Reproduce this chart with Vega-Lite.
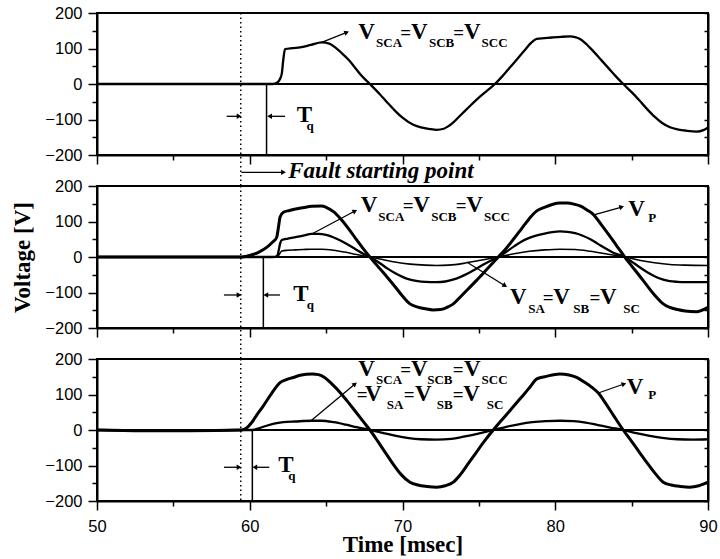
{
"$schema":"https://vega.github.io/schema/vega-lite/v6.json",
"background":"white",
"padding":{"left":10,"top":4,"right":0,"bottom":0},
"spacing":31,
"bounds":"flush",
"datasets":{
"curves":[
{"p":1,"s":"SC","t":50,"v":0},{"p":1,"s":"SC","t":55,"v":0},{"p":1,"s":"SC","t":61.2,"v":0},{"p":1,"s":"SC","t":61.5,"v":0},{"p":1,"s":"SC","t":61.8,"v":4},{"p":1,"s":"SC","t":61.98,"v":14},{"p":1,"s":"SC","t":62.1,"v":30},{"p":1,"s":"SC","t":62.2,"v":70},{"p":1,"s":"SC","t":62.31,"v":98},{"p":1,"s":"SC","t":62.8,"v":101},{"p":1,"s":"SC","t":63.29,"v":103},{"p":1,"s":"SC","t":64.0,"v":110},{"p":1,"s":"SC","t":64.71,"v":117},{"p":1,"s":"SC","t":65.2,"v":114},{"p":1,"s":"SC","t":65.5,"v":106},{"p":1,"s":"SC","t":66.0,"v":88},{"p":1,"s":"SC","t":66.5,"v":67},{"p":1,"s":"SC","t":67.0,"v":40},{"p":1,"s":"SC","t":67.22,"v":28},{"p":1,"s":"SC","t":67.87,"v":0},{"p":1,"s":"SC","t":68.5,"v":-28},{"p":1,"s":"SC","t":69.0,"v":-52},{"p":1,"s":"SC","t":69.5,"v":-75},{"p":1,"s":"SC","t":70.0,"v":-95},{"p":1,"s":"SC","t":70.71,"v":-115},{"p":1,"s":"SC","t":71.3,"v":-123},{"p":1,"s":"SC","t":71.8,"v":-127},{"p":1,"s":"SC","t":72.24,"v":-129},{"p":1,"s":"SC","t":72.7,"v":-126},{"p":1,"s":"SC","t":73.0,"v":-119},{"p":1,"s":"SC","t":73.33,"v":-108},{"p":1,"s":"SC","t":73.8,"v":-88},{"p":1,"s":"SC","t":74.3,"v":-67},{"p":1,"s":"SC","t":74.8,"v":-46},{"p":1,"s":"SC","t":75.3,"v":-27},{"p":1,"s":"SC","t":75.7,"v":-13},{"p":1,"s":"SC","t":76.05,"v":0},{"p":1,"s":"SC","t":76.5,"v":20},{"p":1,"s":"SC","t":77.0,"v":45},{"p":1,"s":"SC","t":77.5,"v":70},{"p":1,"s":"SC","t":78.0,"v":95},{"p":1,"s":"SC","t":78.4,"v":115},{"p":1,"s":"SC","t":78.79,"v":127},{"p":1,"s":"SC","t":79.3,"v":129},{"p":1,"s":"SC","t":79.8,"v":131},{"p":1,"s":"SC","t":80.4,"v":133},{"p":1,"s":"SC","t":80.97,"v":134},{"p":1,"s":"SC","t":81.3,"v":132},{"p":1,"s":"SC","t":81.62,"v":127},{"p":1,"s":"SC","t":82.0,"v":114},{"p":1,"s":"SC","t":82.5,"v":92},{"p":1,"s":"SC","t":83.0,"v":68},{"p":1,"s":"SC","t":83.5,"v":44},{"p":1,"s":"SC","t":84.0,"v":20},{"p":1,"s":"SC","t":84.45,"v":0},{"p":1,"s":"SC","t":85.0,"v":-23},{"p":1,"s":"SC","t":85.5,"v":-46},{"p":1,"s":"SC","t":86.0,"v":-70},{"p":1,"s":"SC","t":86.5,"v":-92},{"p":1,"s":"SC","t":87.0,"v":-110},{"p":1,"s":"SC","t":87.51,"v":-122},{"p":1,"s":"SC","t":88.0,"v":-128},{"p":1,"s":"SC","t":88.5,"v":-131},{"p":1,"s":"SC","t":89.26,"v":-134},{"p":1,"s":"SC","t":89.7,"v":-130},{"p":1,"s":"SC","t":90.0,"v":-122},

{"p":2,"s":"P","t":50,"v":0},{"p":2,"s":"P","t":55,"v":0},{"p":2,"s":"P","t":59.47,"v":0},{"p":2,"s":"P","t":59.8,"v":2},{"p":2,"s":"P","t":60.2,"v":7},{"p":2,"s":"P","t":60.6,"v":14},{"p":2,"s":"P","t":61.11,"v":27},{"p":2,"s":"P","t":61.5,"v":42},{"p":2,"s":"P","t":61.76,"v":55},{"p":2,"s":"P","t":61.9,"v":90},{"p":2,"s":"P","t":61.98,"v":112},{"p":2,"s":"P","t":62.2,"v":126},{"p":2,"s":"P","t":62.6,"v":131},{"p":2,"s":"P","t":63.0,"v":135},{"p":2,"s":"P","t":63.5,"v":139},{"p":2,"s":"P","t":64.06,"v":143},{"p":2,"s":"P","t":64.71,"v":144},{"p":2,"s":"P","t":65.0,"v":140},{"p":2,"s":"P","t":65.5,"v":127},{"p":2,"s":"P","t":66.0,"v":105},{"p":2,"s":"P","t":66.5,"v":78},{"p":2,"s":"P","t":67.0,"v":48},{"p":2,"s":"P","t":67.4,"v":25},{"p":2,"s":"P","t":67.87,"v":0},{"p":2,"s":"P","t":68.5,"v":-32},{"p":2,"s":"P","t":69.0,"v":-57},{"p":2,"s":"P","t":69.5,"v":-83},{"p":2,"s":"P","t":70.0,"v":-110},{"p":2,"s":"P","t":70.49,"v":-132},{"p":2,"s":"P","t":71.0,"v":-141},{"p":2,"s":"P","t":71.5,"v":-146},{"p":2,"s":"P","t":72.0,"v":-149},{"p":2,"s":"P","t":72.5,"v":-148},{"p":2,"s":"P","t":73.0,"v":-140},{"p":2,"s":"P","t":73.33,"v":-132},{"p":2,"s":"P","t":73.8,"v":-112},{"p":2,"s":"P","t":74.3,"v":-90},{"p":2,"s":"P","t":74.8,"v":-68},{"p":2,"s":"P","t":75.3,"v":-45},{"p":2,"s":"P","t":75.8,"v":-22},{"p":2,"s":"P","t":76.27,"v":0},{"p":2,"s":"P","t":76.8,"v":25},{"p":2,"s":"P","t":77.3,"v":52},{"p":2,"s":"P","t":77.8,"v":80},{"p":2,"s":"P","t":78.3,"v":108},{"p":2,"s":"P","t":78.79,"v":130},{"p":2,"s":"P","t":79.3,"v":140},{"p":2,"s":"P","t":79.8,"v":148},{"p":2,"s":"P","t":80.3,"v":152},{"p":2,"s":"P","t":80.8,"v":152},{"p":2,"s":"P","t":81.3,"v":148},{"p":2,"s":"P","t":81.62,"v":144},{"p":2,"s":"P","t":82.1,"v":132},{"p":2,"s":"P","t":82.47,"v":121},{"p":2,"s":"P","t":83.0,"v":92},{"p":2,"s":"P","t":83.5,"v":63},{"p":2,"s":"P","t":84.0,"v":33},{"p":2,"s":"P","t":84.55,"v":0},{"p":2,"s":"P","t":85.0,"v":-25},{"p":2,"s":"P","t":85.5,"v":-52},{"p":2,"s":"P","t":86.0,"v":-80},{"p":2,"s":"P","t":86.5,"v":-107},{"p":2,"s":"P","t":87.07,"v":-132},{"p":2,"s":"P","t":87.5,"v":-142},{"p":2,"s":"P","t":88.0,"v":-148},{"p":2,"s":"P","t":88.5,"v":-152},{"p":2,"s":"P","t":89.25,"v":-154},{"p":2,"s":"P","t":89.6,"v":-150},{"p":2,"s":"P","t":90.0,"v":-142},

{"p":2,"s":"SC","t":50,"v":0},{"p":2,"s":"SC","t":61.5,"v":0},{"p":2,"s":"SC","t":61.8,"v":3},{"p":2,"s":"SC","t":61.9,"v":20},{"p":2,"s":"SC","t":62.0,"v":40},{"p":2,"s":"SC","t":62.1,"v":48},{"p":2,"s":"SC","t":62.5,"v":52},{"p":2,"s":"SC","t":63.0,"v":56},{"p":2,"s":"SC","t":63.5,"v":60},{"p":2,"s":"SC","t":64.06,"v":65},{"p":2,"s":"SC","t":64.5,"v":65},{"p":2,"s":"SC","t":65.0,"v":62},{"p":2,"s":"SC","t":65.5,"v":55},{"p":2,"s":"SC","t":66.0,"v":45},{"p":2,"s":"SC","t":66.5,"v":33},{"p":2,"s":"SC","t":67.0,"v":20},{"p":2,"s":"SC","t":67.4,"v":10},{"p":2,"s":"SC","t":67.87,"v":0},{"p":2,"s":"SC","t":68.5,"v":-17},{"p":2,"s":"SC","t":69.0,"v":-32},{"p":2,"s":"SC","t":69.5,"v":-45},{"p":2,"s":"SC","t":70.0,"v":-56},{"p":2,"s":"SC","t":70.5,"v":-64},{"p":2,"s":"SC","t":71.0,"v":-68},{"p":2,"s":"SC","t":71.5,"v":-70},{"p":2,"s":"SC","t":72.24,"v":-71},{"p":2,"s":"SC","t":72.8,"v":-69},{"p":2,"s":"SC","t":73.3,"v":-64},{"p":2,"s":"SC","t":73.8,"v":-56},{"p":2,"s":"SC","t":74.3,"v":-46},{"p":2,"s":"SC","t":74.8,"v":-34},{"p":2,"s":"SC","t":75.3,"v":-21},{"p":2,"s":"SC","t":75.8,"v":-10},{"p":2,"s":"SC","t":76.27,"v":0},{"p":2,"s":"SC","t":76.8,"v":15},{"p":2,"s":"SC","t":77.3,"v":30},{"p":2,"s":"SC","t":77.8,"v":44},{"p":2,"s":"SC","t":78.3,"v":54},{"p":2,"s":"SC","t":78.8,"v":61},{"p":2,"s":"SC","t":79.3,"v":66},{"p":2,"s":"SC","t":79.8,"v":70},{"p":2,"s":"SC","t":80.31,"v":72},{"p":2,"s":"SC","t":80.8,"v":71},{"p":2,"s":"SC","t":81.3,"v":67},{"p":2,"s":"SC","t":81.8,"v":60},{"p":2,"s":"SC","t":82.3,"v":50},{"p":2,"s":"SC","t":82.8,"v":37},{"p":2,"s":"SC","t":83.3,"v":24},{"p":2,"s":"SC","t":83.8,"v":12},{"p":2,"s":"SC","t":84.55,"v":0},{"p":2,"s":"SC","t":85.0,"v":-13},{"p":2,"s":"SC","t":85.5,"v":-28},{"p":2,"s":"SC","t":86.0,"v":-42},{"p":2,"s":"SC","t":86.5,"v":-54},{"p":2,"s":"SC","t":87.07,"v":-64},{"p":2,"s":"SC","t":87.5,"v":-68},{"p":2,"s":"SC","t":88.0,"v":-70},{"p":2,"s":"SC","t":88.5,"v":-71},{"p":2,"s":"SC","t":89.0,"v":-71},{"p":2,"s":"SC","t":90.0,"v":-71},

{"p":2,"s":"S","t":50,"v":0},{"p":2,"s":"S","t":61.5,"v":0},{"p":2,"s":"S","t":61.85,"v":3},{"p":2,"s":"S","t":62.0,"v":12},{"p":2,"s":"S","t":62.1,"v":17},{"p":2,"s":"S","t":62.5,"v":19},{"p":2,"s":"S","t":63.0,"v":20},{"p":2,"s":"S","t":63.5,"v":21},{"p":2,"s":"S","t":64.06,"v":22},{"p":2,"s":"S","t":64.7,"v":22},{"p":2,"s":"S","t":65.5,"v":19},{"p":2,"s":"S","t":66.2,"v":14},{"p":2,"s":"S","t":67.0,"v":7},{"p":2,"s":"S","t":67.87,"v":0},{"p":2,"s":"S","t":68.7,"v":-7},{"p":2,"s":"S","t":69.5,"v":-14},{"p":2,"s":"S","t":70.5,"v":-20},{"p":2,"s":"S","t":71.5,"v":-23},{"p":2,"s":"S","t":72.24,"v":-24},{"p":2,"s":"S","t":73.0,"v":-23},{"p":2,"s":"S","t":74.0,"v":-18},{"p":2,"s":"S","t":75.0,"v":-10},{"p":2,"s":"S","t":76.27,"v":0},{"p":2,"s":"S","t":77.3,"v":9},{"p":2,"s":"S","t":78.3,"v":16},{"p":2,"s":"S","t":79.3,"v":20},{"p":2,"s":"S","t":80.3,"v":22},{"p":2,"s":"S","t":81.3,"v":21},{"p":2,"s":"S","t":82.3,"v":16},{"p":2,"s":"S","t":83.3,"v":9},{"p":2,"s":"S","t":84.55,"v":0},{"p":2,"s":"S","t":85.5,"v":-9},{"p":2,"s":"S","t":86.5,"v":-16},{"p":2,"s":"S","t":87.5,"v":-21},{"p":2,"s":"S","t":88.5,"v":-23},{"p":2,"s":"S","t":90.0,"v":-24},

{"p":3,"s":"P","t":50,"v":0},{"p":3,"s":"P","t":53,"v":-2},{"p":3,"s":"P","t":56,"v":-2},{"p":3,"s":"P","t":59.47,"v":0},{"p":3,"s":"P","t":59.8,"v":6},{"p":3,"s":"P","t":60.13,"v":21},{"p":3,"s":"P","t":60.5,"v":45},{"p":3,"s":"P","t":60.89,"v":68},{"p":3,"s":"P","t":61.4,"v":101},{"p":3,"s":"P","t":62.0,"v":134},{"p":3,"s":"P","t":62.4,"v":142},{"p":3,"s":"P","t":62.85,"v":148},{"p":3,"s":"P","t":63.3,"v":154},{"p":3,"s":"P","t":63.7,"v":157},{"p":3,"s":"P","t":64.1,"v":158},{"p":3,"s":"P","t":64.5,"v":156},{"p":3,"s":"P","t":64.9,"v":148},{"p":3,"s":"P","t":65.37,"v":130},{"p":3,"s":"P","t":65.87,"v":108},{"p":3,"s":"P","t":66.37,"v":82},{"p":3,"s":"P","t":66.87,"v":55},{"p":3,"s":"P","t":67.37,"v":27},{"p":3,"s":"P","t":67.87,"v":0},{"p":3,"s":"P","t":68.4,"v":-33},{"p":3,"s":"P","t":68.9,"v":-65},{"p":3,"s":"P","t":69.4,"v":-97},{"p":3,"s":"P","t":69.9,"v":-125},{"p":3,"s":"P","t":70.49,"v":-147},{"p":3,"s":"P","t":71.0,"v":-155},{"p":3,"s":"P","t":71.6,"v":-159},{"p":3,"s":"P","t":72.24,"v":-161},{"p":3,"s":"P","t":72.8,"v":-157},{"p":3,"s":"P","t":73.33,"v":-147},{"p":3,"s":"P","t":73.8,"v":-125},{"p":3,"s":"P","t":74.3,"v":-95},{"p":3,"s":"P","t":74.8,"v":-65},{"p":3,"s":"P","t":75.3,"v":-35},{"p":3,"s":"P","t":75.94,"v":0},{"p":3,"s":"P","t":76.5,"v":28},{"p":3,"s":"P","t":77.0,"v":53},{"p":3,"s":"P","t":77.5,"v":78},{"p":3,"s":"P","t":78.0,"v":103},{"p":3,"s":"P","t":78.4,"v":124},{"p":3,"s":"P","t":78.79,"v":144},{"p":3,"s":"P","t":79.3,"v":150},{"p":3,"s":"P","t":79.8,"v":155},{"p":3,"s":"P","t":80.31,"v":158},{"p":3,"s":"P","t":80.9,"v":155},{"p":3,"s":"P","t":81.4,"v":148},{"p":3,"s":"P","t":81.9,"v":135},{"p":3,"s":"P","t":82.4,"v":120},{"p":3,"s":"P","t":82.82,"v":104},{"p":3,"s":"P","t":83.3,"v":75},{"p":3,"s":"P","t":83.8,"v":42},{"p":3,"s":"P","t":84.45,"v":0},{"p":3,"s":"P","t":85.0,"v":-32},{"p":3,"s":"P","t":85.5,"v":-62},{"p":3,"s":"P","t":86.0,"v":-92},{"p":3,"s":"P","t":86.5,"v":-120},{"p":3,"s":"P","t":87.07,"v":-147},{"p":3,"s":"P","t":87.6,"v":-155},{"p":3,"s":"P","t":88.2,"v":-159},{"p":3,"s":"P","t":88.81,"v":-161},{"p":3,"s":"P","t":89.4,"v":-157},{"p":3,"s":"P","t":90.0,"v":-147},

{"p":3,"s":"SC","t":50,"v":0},{"p":3,"s":"SC","t":53,"v":-2},{"p":3,"s":"SC","t":56,"v":-2},{"p":3,"s":"SC","t":59.5,"v":0},{"p":3,"s":"SC","t":60.2,"v":0},{"p":3,"s":"SC","t":60.6,"v":5},{"p":3,"s":"SC","t":61.1,"v":12},{"p":3,"s":"SC","t":61.6,"v":18},{"p":3,"s":"SC","t":62.2,"v":22},{"p":3,"s":"SC","t":63.0,"v":24},{"p":3,"s":"SC","t":64.06,"v":26},{"p":3,"s":"SC","t":64.7,"v":26},{"p":3,"s":"SC","t":65.5,"v":22},{"p":3,"s":"SC","t":66.3,"v":15},{"p":3,"s":"SC","t":67.0,"v":8},{"p":3,"s":"SC","t":67.87,"v":0},{"p":3,"s":"SC","t":68.7,"v":-8},{"p":3,"s":"SC","t":69.5,"v":-16},{"p":3,"s":"SC","t":70.3,"v":-22},{"p":3,"s":"SC","t":71.2,"v":-26},{"p":3,"s":"SC","t":72.24,"v":-27},{"p":3,"s":"SC","t":73.2,"v":-25},{"p":3,"s":"SC","t":74.0,"v":-19},{"p":3,"s":"SC","t":74.9,"v":-11},{"p":3,"s":"SC","t":75.94,"v":0},{"p":3,"s":"SC","t":76.8,"v":9},{"p":3,"s":"SC","t":77.6,"v":16},{"p":3,"s":"SC","t":78.5,"v":22},{"p":3,"s":"SC","t":79.4,"v":25},{"p":3,"s":"SC","t":80.31,"v":26},{"p":3,"s":"SC","t":81.2,"v":25},{"p":3,"s":"SC","t":82.0,"v":21},{"p":3,"s":"SC","t":82.8,"v":14},{"p":3,"s":"SC","t":83.6,"v":7},{"p":3,"s":"SC","t":84.45,"v":0},{"p":3,"s":"SC","t":85.3,"v":-9},{"p":3,"s":"SC","t":86.1,"v":-16},{"p":3,"s":"SC","t":87.0,"v":-22},{"p":3,"s":"SC","t":88.0,"v":-26},{"p":3,"s":"SC","t":89.0,"v":-27},{"p":3,"s":"SC","t":90.0,"v":-26}
],
"vl":[
{"p":1,"k":"f","x":59.41,"y":200,"y2":-287.3},{"p":1,"k":"q","x":61.1,"y":0,"y2":-200},
{"p":2,"k":"f","x":59.41,"y":200,"y2":-287.3},{"p":2,"k":"q","x":60.89,"y":0,"y2":-200},
{"p":3,"k":"f","x":59.41,"y":200,"y2":-200},{"p":3,"k":"q","x":60.17,"y":0,"y2":-200}
],
"arrows":[
{"p":1,"x":64.71,"y":117.5,"x2":66.35,"y2":145.6,"a":338},
{"p":1,"x":58.49,"y":-91,"x2":59.3,"y2":-91,"a":0},
{"p":1,"x":62.31,"y":-91,"x2":61.3,"y2":-91,"a":180},
{"p":1,"x":59.45,"y":-248.7,"x2":62.21,"y2":-248.7,"a":0},
{"p":2,"x":64.06,"y":64.8,"x2":66.89,"y2":129.6,"a":332},
{"p":2,"x":82.47,"y":118.3,"x2":84.35,"y2":140.8,"a":344},
{"p":2,"x":74.2,"y":-14.1,"x2":76.71,"y2":-80.8,"a":32},
{"p":2,"x":58.31,"y":-107,"x2":59.3,"y2":-107,"a":0},
{"p":2,"x":61.98,"y":-107,"x2":61.05,"y2":-107,"a":180},
{"p":3,"x":64.01,"y":26.2,"x2":66.89,"y2":129.6,"a":320},
{"p":3,"x":82.82,"y":104.2,"x2":84.5,"y2":129.6,"a":341},
{"p":3,"x":58.31,"y":-105,"x2":59.3,"y2":-105,"a":0},
{"p":3,"x":61.28,"y":-105,"x2":60.33,"y2":-105,"a":180}
],
"labels":[
{"p":1,"x":67.11,"y":126.8,"t":"V","k":"m"},{"p":1,"x":68.27,"y":103.4,"t":"SCA","k":"s"},{"p":1,"x":69.86,"y":126.8,"t":"=","k":"e"},{"p":1,"x":70.56,"y":126.8,"t":"V","k":"m"},{"p":1,"x":71.73,"y":103.4,"t":"SCB","k":"s"},{"p":1,"x":73.33,"y":126.8,"t":"=","k":"e"},{"p":1,"x":74.03,"y":126.8,"t":"V","k":"m"},{"p":1,"x":75.18,"y":103.4,"t":"SCC","k":"s"},
{"p":1,"x":63.07,"y":-107.9,"t":"T","k":"m"},{"p":1,"x":63.72,"y":-129.6,"t":"q","k":"s"},

{"p":2,"x":67.26,"y":125.9,"t":"V","k":"m"},{"p":2,"x":68.42,"y":102.5,"t":"SCA","k":"s"},{"p":2,"x":70.01,"y":125.9,"t":"=","k":"e"},{"p":2,"x":70.71,"y":125.9,"t":"V","k":"m"},{"p":2,"x":71.88,"y":102.5,"t":"SCB","k":"s"},{"p":2,"x":73.48,"y":125.9,"t":"=","k":"e"},{"p":2,"x":74.18,"y":125.9,"t":"V","k":"m"},{"p":2,"x":75.33,"y":102.5,"t":"SCC","k":"s"},
{"p":2,"x":84.78,"y":115.5,"t":"V","k":"m"},{"p":2,"x":86.09,"y":98.6,"t":"P","k":"s"},
{"p":2,"x":77.04,"y":-132.4,"t":"V","k":"m"},{"p":2,"x":78.24,"y":-157.7,"t":"SA","k":"s"},{"p":2,"x":79.18,"y":-132.4,"t":"=","k":"e"},{"p":2,"x":79.87,"y":-132.4,"t":"V","k":"m"},{"p":2,"x":81.18,"y":-157.7,"t":"SB","k":"s"},{"p":2,"x":82.24,"y":-132.4,"t":"=","k":"e"},{"p":2,"x":82.93,"y":-132.4,"t":"V","k":"m"},{"p":2,"x":84.45,"y":-157.7,"t":"SC","k":"s"},
{"p":2,"x":62.85,"y":-123,"t":"T","k":"m"},{"p":2,"x":63.73,"y":-145.6,"t":"q","k":"s"},

{"p":3,"x":67.11,"y":153,"t":"V","k":"m"},{"p":3,"x":68.27,"y":129.6,"t":"SCA","k":"s"},{"p":3,"x":69.86,"y":153,"t":"=","k":"e"},{"p":3,"x":70.56,"y":153,"t":"V","k":"m"},{"p":3,"x":71.62,"y":129.6,"t":"SCB","k":"s"},{"p":3,"x":73.29,"y":153,"t":"=","k":"e"},{"p":3,"x":74.03,"y":153,"t":"V","k":"m"},{"p":3,"x":75.18,"y":129.6,"t":"SCC","k":"s"},
{"p":3,"x":67.0,"y":82.5,"t":"=","k":"e"},{"p":3,"x":67.55,"y":82.5,"t":"V","k":"m"},{"p":3,"x":68.97,"y":59.1,"t":"SA","k":"s"},{"p":3,"x":70.08,"y":82.5,"t":"=","k":"e"},{"p":3,"x":70.82,"y":82.5,"t":"V","k":"m"},{"p":3,"x":72.24,"y":59.1,"t":"SB","k":"s"},{"p":3,"x":73.29,"y":82.5,"t":"=","k":"e"},{"p":3,"x":73.98,"y":82.5,"t":"V","k":"m"},{"p":3,"x":75.51,"y":59.1,"t":"SC","k":"s"},
{"p":3,"x":84.68,"y":101.4,"t":"V","k":"m"},{"p":3,"x":86.09,"y":87.3,"t":"P","k":"s"},
{"p":3,"x":61.87,"y":-119,"t":"T","k":"m"},{"p":3,"x":62.52,"y":-141.7,"t":"q","k":"s"}
],
"fault":[{"p":1,"x":62.52,"y":-265.6,"t":"Fault starting point"}]
},
"vconcat":[
{"width":611,"height":142,
"resolve":{"axis":{"x":"independent","y":"independent"}},
"layer":[
{"data":{"values":[{}]},"mark":{"type":"rule","color":"black","strokeWidth":2},
"encoding":{"y":{"datum":0,"type":"quantitative","scale":{"domain":[-200,200],"nice":false},"axis":{"orient":"right","values":[-200,-150,-100,-50,0,50,100,150,200],"labels":false,"tickSize":-4,"title":null}}}},
{"data":{"name":"curves"},"transform":[{"filter":"datum.p==1"}],
"mark":{"type":"line","color":"black","interpolate":"monotone"},
"encoding":{
"x":{"field":"t","type":"quantitative","scale":{"domain":[50,90],"nice":false},"axis":{"orient":"bottom","values":[50,55,60,65,70,75,80,85,90],"labels":false,"title":null,"tickSize":{"condition":{"test":"datum.value % 10 === 0","value":9},"value":5}}},
"y":{"field":"v","type":"quantitative","scale":{"domain":[-200,200],"nice":false},"axis":{"orient":"left","values":[-200,-150,-100,-50,0,50,100,150,200],"labelExpr":"datum.value % 100 === 0 ? datum.label : ''","title":null,"labelPadding":6,"tickSize":{"condition":{"test":"datum.value % 100 === 0","value":9},"value":5}}},
"detail":{"field":"s"},
"strokeWidth":{"field":"s","type":"nominal","scale":{"domain":["P","SC","S"],"range":[3,1.6,1.5]},"legend":null}}},
{"data":{"name":"vl"},"transform":[{"filter":"datum.p==1"}],
"mark":{"type":"rule","color":"black","strokeWidth":1.5},
"encoding":{"x":{"field":"x","type":"quantitative","axis":null},"y":{"field":"y","type":"quantitative","axis":null},"y2":{"field":"y2"},
"strokeDash":{"field":"k","type":"nominal","scale":{"domain":["f","q"],"range":[[1.5,3],[1,0]]},"legend":null}}},
{"data":{"name":"arrows"},"transform":[{"filter":"datum.p==1"}],
"mark":{"type":"rule","color":"black","strokeWidth":1.3},
"encoding":{"x":{"field":"x","type":"quantitative","axis":null},"y":{"field":"y","type":"quantitative","axis":null},"x2":{"field":"x2"},"y2":{"field":"y2"}}},
{"data":{"name":"arrows"},"transform":[{"filter":"datum.p==1"}],
"mark":{"type":"point","shape":"triangle-right","filled":true,"color":"black","size":30,"opacity":1},
"encoding":{"x":{"field":"x2","type":"quantitative","axis":null},"y":{"field":"y2","type":"quantitative","axis":null},"angle":{"field":"a","type":"quantitative","scale":null}}},
{"data":{"name":"labels"},"transform":[{"filter":"datum.p==1"}],
"mark":{"type":"text","align":"left","baseline":"alphabetic","font":"Liberation Serif","fontWeight":"bold","color":"black"},
"encoding":{"x":{"field":"x","type":"quantitative","axis":null},"y":{"field":"y","type":"quantitative","axis":null},"text":{"field":"t"},
"size":{"condition":[{"test":"datum.k=='m'","value":23},{"test":"datum.k=='e'","value":19}],"value":13}}},
{"data":{"name":"fault"},
"mark":{"type":"text","align":"left","baseline":"alphabetic","font":"Liberation Serif","fontWeight":"bold","fontStyle":"italic","fontSize":23,"color":"black"},
"encoding":{"x":{"field":"x","type":"quantitative","axis":null},"y":{"field":"y","type":"quantitative","axis":null},"text":{"field":"t"}}}
]},
{"width":611,"height":142,
"resolve":{"axis":{"x":"independent","y":"independent"}},
"layer":[
{"data":{"values":[{}]},"mark":{"type":"rule","color":"black","strokeWidth":2},
"encoding":{"y":{"datum":0,"type":"quantitative","scale":{"domain":[-200,200],"nice":false},"axis":{"orient":"right","values":[-200,-150,-100,-50,0,50,100,150,200],"labels":false,"tickSize":-4,"title":null}}}},
{"data":{"name":"curves"},"transform":[{"filter":"datum.p==2"}],
"mark":{"type":"line","color":"black","interpolate":"monotone"},
"encoding":{
"x":{"field":"t","type":"quantitative","scale":{"domain":[50,90],"nice":false},"axis":{"orient":"bottom","values":[50,55,60,65,70,75,80,85,90],"labels":false,"title":null,"tickSize":{"condition":{"test":"datum.value % 10 === 0","value":9},"value":5}}},
"y":{"field":"v","type":"quantitative","scale":{"domain":[-200,200],"nice":false},"axis":{"orient":"left","values":[-200,-150,-100,-50,0,50,100,150,200],"labelExpr":"datum.value % 100 === 0 ? datum.label : ''","title":"Voltage [V]","titlePadding":10,"labelPadding":6,"tickSize":{"condition":{"test":"datum.value % 100 === 0","value":9},"value":5}}},
"detail":{"field":"s"},
"strokeWidth":{"field":"s","type":"nominal","scale":{"domain":["P","SC","S"],"range":[3,1.6,1.5]},"legend":null}}},
{"data":{"name":"vl"},"transform":[{"filter":"datum.p==2"}],
"mark":{"type":"rule","color":"black","strokeWidth":1.5},
"encoding":{"x":{"field":"x","type":"quantitative","axis":null},"y":{"field":"y","type":"quantitative","axis":null},"y2":{"field":"y2"},
"strokeDash":{"field":"k","type":"nominal","scale":{"domain":["f","q"],"range":[[1.5,3],[1,0]]},"legend":null}}},
{"data":{"name":"arrows"},"transform":[{"filter":"datum.p==2"}],
"mark":{"type":"rule","color":"black","strokeWidth":1.3},
"encoding":{"x":{"field":"x","type":"quantitative","axis":null},"y":{"field":"y","type":"quantitative","axis":null},"x2":{"field":"x2"},"y2":{"field":"y2"}}},
{"data":{"name":"arrows"},"transform":[{"filter":"datum.p==2"}],
"mark":{"type":"point","shape":"triangle-right","filled":true,"color":"black","size":30,"opacity":1},
"encoding":{"x":{"field":"x2","type":"quantitative","axis":null},"y":{"field":"y2","type":"quantitative","axis":null},"angle":{"field":"a","type":"quantitative","scale":null}}},
{"data":{"name":"labels"},"transform":[{"filter":"datum.p==2"}],
"mark":{"type":"text","align":"left","baseline":"alphabetic","font":"Liberation Serif","fontWeight":"bold","color":"black"},
"encoding":{"x":{"field":"x","type":"quantitative","axis":null},"y":{"field":"y","type":"quantitative","axis":null},"text":{"field":"t"},
"size":{"condition":[{"test":"datum.k=='m'","value":23},{"test":"datum.k=='e'","value":19}],"value":13}}}
]},
{"width":611,"height":142,
"resolve":{"axis":{"x":"independent","y":"independent"}},
"layer":[
{"data":{"values":[{}]},"mark":{"type":"rule","color":"black","strokeWidth":2},
"encoding":{"y":{"datum":0,"type":"quantitative","scale":{"domain":[-200,200],"nice":false},"axis":{"orient":"right","values":[-200,-150,-100,-50,0,50,100,150,200],"labels":false,"tickSize":-4,"title":null}}}},
{"data":{"name":"curves"},"transform":[{"filter":"datum.p==3"}],
"mark":{"type":"line","color":"black","interpolate":"monotone"},
"encoding":{
"x":{"field":"t","type":"quantitative","scale":{"domain":[50,90],"nice":false},"axis":{"orient":"bottom","values":[50,55,60,65,70,75,80,85,90],"labelExpr":"datum.value % 10 === 0 ? datum.label : ''","title":"Time [msec]","labelPadding":8,"titlePadding":-1,"tickSize":{"condition":{"test":"datum.value % 10 === 0","value":9},"value":5}}},
"y":{"field":"v","type":"quantitative","scale":{"domain":[-200,200],"nice":false},"axis":{"orient":"left","values":[-200,-150,-100,-50,0,50,100,150,200],"labelExpr":"datum.value % 100 === 0 ? datum.label : ''","title":null,"labelPadding":6,"tickSize":{"condition":{"test":"datum.value % 100 === 0","value":9},"value":5}}},
"detail":{"field":"s"},
"strokeWidth":{"field":"s","type":"nominal","scale":{"domain":["P","SC","S"],"range":[3,1.5,1.5]},"legend":null}}},
{"data":{"name":"vl"},"transform":[{"filter":"datum.p==3"}],
"mark":{"type":"rule","color":"black","strokeWidth":1.5},
"encoding":{"x":{"field":"x","type":"quantitative","axis":null},"y":{"field":"y","type":"quantitative","axis":null},"y2":{"field":"y2"},
"strokeDash":{"field":"k","type":"nominal","scale":{"domain":["f","q"],"range":[[1.5,3],[1,0]]},"legend":null}}},
{"data":{"name":"arrows"},"transform":[{"filter":"datum.p==3"}],
"mark":{"type":"rule","color":"black","strokeWidth":1.3},
"encoding":{"x":{"field":"x","type":"quantitative","axis":null},"y":{"field":"y","type":"quantitative","axis":null},"x2":{"field":"x2"},"y2":{"field":"y2"}}},
{"data":{"name":"arrows"},"transform":[{"filter":"datum.p==3"}],
"mark":{"type":"point","shape":"triangle-right","filled":true,"color":"black","size":30,"opacity":1},
"encoding":{"x":{"field":"x2","type":"quantitative","axis":null},"y":{"field":"y2","type":"quantitative","axis":null},"angle":{"field":"a","type":"quantitative","scale":null}}},
{"data":{"name":"labels"},"transform":[{"filter":"datum.p==3"}],
"mark":{"type":"text","align":"left","baseline":"alphabetic","font":"Liberation Serif","fontWeight":"bold","color":"black"},
"encoding":{"x":{"field":"x","type":"quantitative","axis":null},"y":{"field":"y","type":"quantitative","axis":null},"text":{"field":"t"},
"size":{"condition":[{"test":"datum.k=='m'","value":23},{"test":"datum.k=='e'","value":19}],"value":13}}}
]}
],
"config":{
"view":{"stroke":"black","strokeWidth":2},
"axis":{"domainColor":"black","domainWidth":2,"tickColor":"black","tickWidth":1.5,"labelFont":"Liberation Sans","labelFontSize":16.5,"labelColor":"black","titleFont":"Liberation Serif","titleFontSize":23,"titleFontWeight":"bold","titleColor":"black","grid":false,"labelFlush":false,"labelOverlap":false}
}
}
